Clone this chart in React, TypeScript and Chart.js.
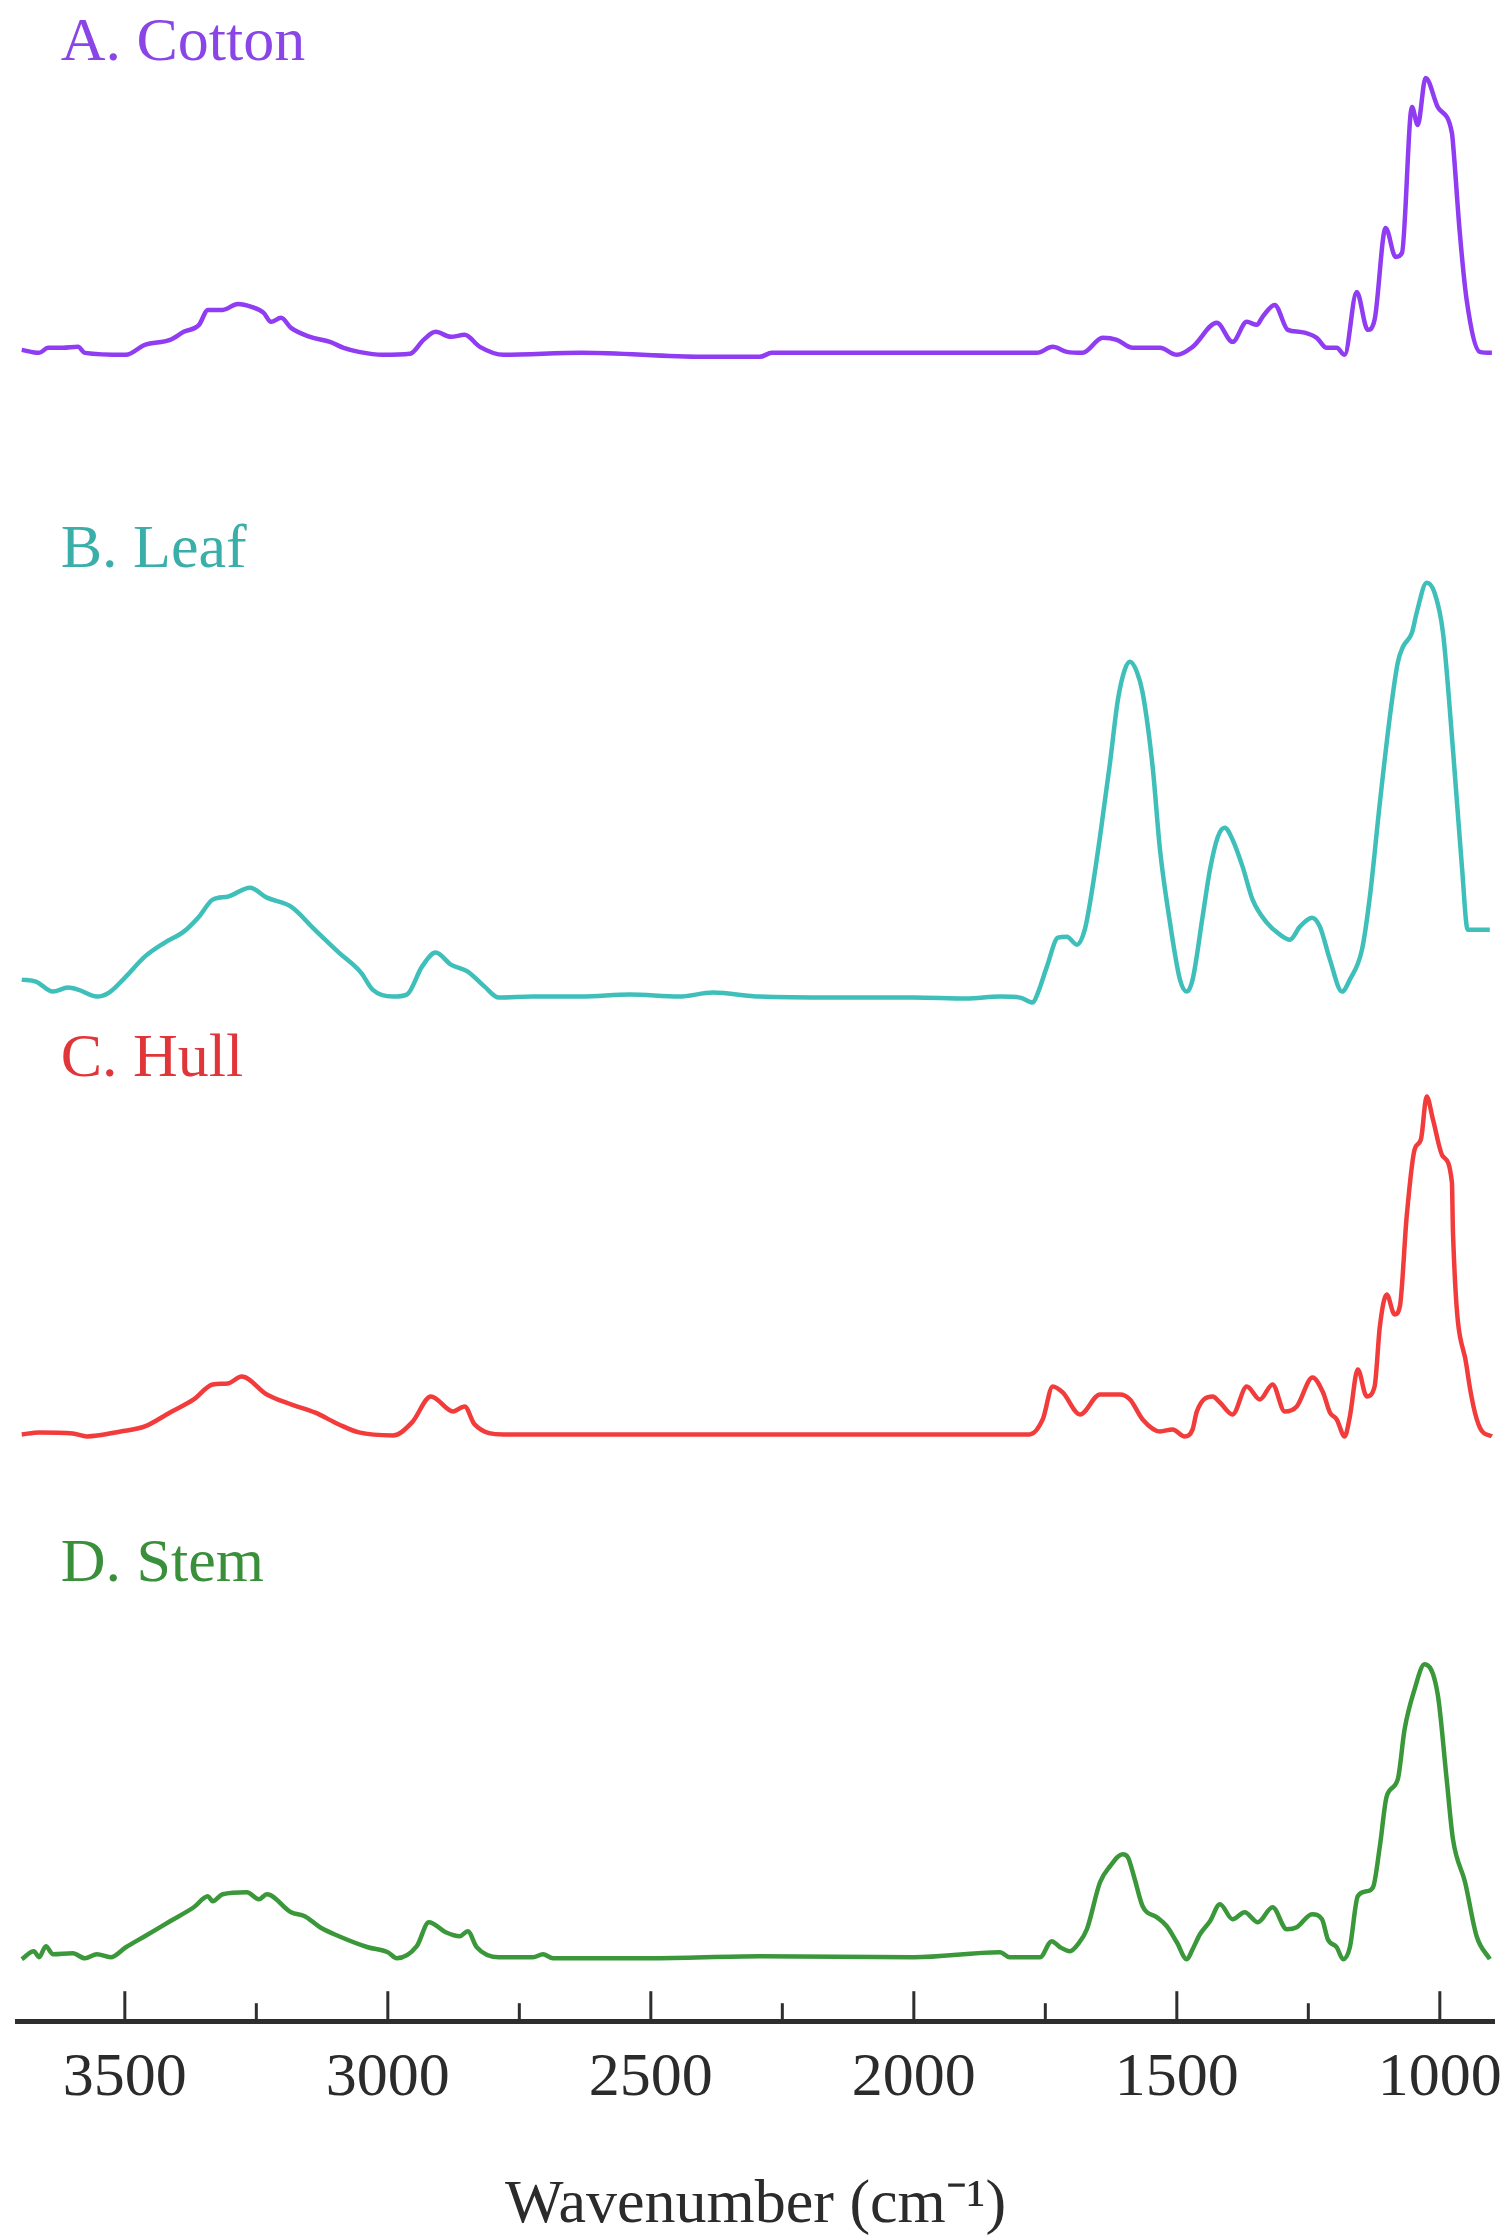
import React, { useEffect, useRef } from 'react';
import { Chart, registerables } from 'chart.js';

Chart.register(...registerables);

// ---------- Data (wavenumber in cm^-1, relative absorbance) ----------
const COTTON_WN = [3696, 3663, 3646, 3618, 3589, 3576, 3498, 3462, 3414, 3388, 3359, 3342, 3314, 3285, 3259, 3236, 3222, 3203, 3184, 3148, 3110, 3084, 3055, 3010, 2958, 2932, 2909, 2880, 2854, 2825, 2780, 2631, 2401, 2293, 2270, 2100, 1900, 1766, 1736, 1709, 1679, 1641, 1614, 1584, 1532, 1500, 1470, 1424, 1394, 1367, 1348, 1337, 1314, 1289, 1266, 1234, 1215, 1196, 1181, 1158, 1137, 1124, 1103, 1084, 1072, 1053, 1042, 1027, 1004, 977, 975, 962, 949, 924, 901];
const COTTON_ABS = [0.05, 0.02, 0.07, 0.07, 0.08, 0.02, 0.0, 0.1, 0.15, 0.23, 0.3, 0.45, 0.45, 0.51, 0.48, 0.42, 0.33, 0.37, 0.27, 0.18, 0.13, 0.07, 0.03, 0.0, 0.01, 0.15, 0.23, 0.18, 0.2, 0.08, 0.0, 0.02, -0.02, -0.02, 0.02, 0.02, 0.02, 0.02, 0.08, 0.03, 0.02, 0.17, 0.15, 0.07, 0.07, 0.0, 0.08, 0.32, 0.13, 0.33, 0.3, 0.38, 0.5, 0.25, 0.23, 0.17, 0.07, 0.07, 0.0, 0.63, 0.25, 0.35, 1.27, 0.98, 1.02, 2.48, 2.3, 2.77, 2.48, 2.22, 2.12, 1.22, 0.55, 0.03, 0.02];

const LEAF_WN = [3696, 3669, 3637, 3608, 3589, 3553, 3530, 3498, 3462, 3424, 3388, 3359, 3333, 3304, 3262, 3230, 3184, 3139, 3093, 3051, 3029, 2990, 2964, 2935, 2909, 2880, 2848, 2816, 2789, 2724, 2631, 2540, 2447, 2382, 2293, 2150, 2000, 1900, 1836, 1798, 1774, 1764, 1747, 1726, 1709, 1690, 1675, 1665, 1646, 1627, 1612, 1599, 1589, 1576, 1565, 1546, 1532, 1513, 1494, 1481, 1470, 1451, 1437, 1422, 1409, 1394, 1375, 1356, 1329, 1304, 1285, 1266, 1243, 1228, 1209, 1186, 1171, 1148, 1133, 1114, 1095, 1080, 1070, 1053, 1044, 1025, 1010, 994, 975, 958, 947, 905];
const LEAF_ABS = [0.17, 0.15, 0.05, 0.09, 0.07, 0.0, 0.04, 0.2, 0.4, 0.54, 0.65, 0.8, 0.97, 1.0, 1.09, 0.99, 0.9, 0.67, 0.44, 0.24, 0.07, 0.0, 0.02, 0.3, 0.44, 0.32, 0.25, 0.1, -0.01, 0.0, 0.0, 0.02, 0.0, 0.04, 0.0, -0.01, -0.01, -0.02, 0.0, -0.01, -0.06, 0.04, 0.3, 0.59, 0.6, 0.52, 0.67, 0.94, 1.6, 2.34, 2.97, 3.27, 3.35, 3.25, 3.04, 2.3, 1.47, 0.74, 0.17, 0.05, 0.17, 0.8, 1.27, 1.6, 1.69, 1.57, 1.3, 0.97, 0.74, 0.62, 0.57, 0.7, 0.79, 0.7, 0.37, 0.05, 0.17, 0.47, 1.0, 1.94, 2.8, 3.34, 3.5, 3.64, 3.84, 4.14, 4.04, 3.64, 2.47, 1.3, 0.67, 0.67];

const HULL_WN = [3696, 3663, 3599, 3572, 3508, 3462, 3414, 3369, 3333, 3304, 3278, 3230, 3184, 3139, 3093, 3055, 2990, 2954, 2918, 2876, 2854, 2835, 2780, 2631, 2293, 1836, 1780, 1755, 1736, 1717, 1684, 1646, 1608, 1589, 1565, 1532, 1508, 1485, 1470, 1462, 1432, 1418, 1394, 1367, 1342, 1318, 1295, 1272, 1242, 1222, 1209, 1196, 1181, 1171, 1156, 1139, 1124, 1114, 1101, 1086, 1076, 1063, 1048, 1036, 1025, 1013, 994, 977, 975, 949, 924, 901];
const HULL_ABS = [0.0, 0.02, 0.01, -0.02, 0.03, 0.08, 0.22, 0.35, 0.5, 0.51, 0.58, 0.4, 0.3, 0.22, 0.1, 0.02, -0.01, 0.12, 0.38, 0.23, 0.28, 0.1, 0.0, 0.0, 0.0, 0.0, 0.0, 0.15, 0.48, 0.42, 0.2, 0.4, 0.4, 0.35, 0.15, 0.03, 0.05, -0.02, 0.05, 0.23, 0.38, 0.32, 0.2, 0.48, 0.35, 0.5, 0.23, 0.28, 0.57, 0.42, 0.22, 0.15, -0.02, 0.18, 0.65, 0.38, 0.48, 1.08, 1.4, 1.2, 1.28, 2.18, 2.85, 2.95, 3.38, 3.15, 2.78, 2.52, 2.02, 0.68, 0.07, -0.02];

const STEM_WN = [3696, 3673, 3663, 3650, 3637, 3599, 3576, 3553, 3527, 3498, 3462, 3414, 3369, 3342, 3333, 3314, 3268, 3245, 3230, 3184, 3158, 3129, 3093, 3038, 3000, 2983, 2945, 2922, 2890, 2863, 2848, 2831, 2789, 2724, 2705, 2686, 2502, 2293, 2000, 1836, 1818, 1760, 1738, 1722, 1703, 1688, 1671, 1646, 1627, 1603, 1593, 1580, 1565, 1538, 1519, 1500, 1481, 1470, 1456, 1437, 1418, 1394, 1371, 1346, 1318, 1291, 1272, 1243, 1224, 1213, 1196, 1184, 1171, 1156, 1139, 1127, 1114, 1101, 1080, 1067, 1048, 1029, 1004, 987, 975, 952, 930, 905];
const STEM_ABS = [-0.02, 0.06, 0.0, 0.11, 0.03, 0.04, -0.01, 0.03, 0.0, 0.1, 0.21, 0.36, 0.5, 0.61, 0.56, 0.63, 0.65, 0.58, 0.63, 0.45, 0.41, 0.3, 0.21, 0.1, 0.05, -0.01, 0.11, 0.35, 0.25, 0.21, 0.26, 0.1, 0.0, 0.0, 0.03, -0.01, -0.01, 0.01, 0.0, 0.05, 0.0, 0.0, 0.16, 0.1, 0.06, 0.13, 0.28, 0.75, 0.91, 1.03, 1.0, 0.78, 0.51, 0.4, 0.31, 0.15, -0.02, 0.08, 0.23, 0.36, 0.53, 0.38, 0.45, 0.35, 0.5, 0.28, 0.3, 0.43, 0.38, 0.18, 0.1, -0.02, 0.1, 0.61, 0.66, 0.7, 1.11, 1.61, 1.78, 2.28, 2.68, 2.93, 2.63, 1.78, 1.18, 0.75, 0.21, -0.02];

const SERIES_NAMES = ['A. Cotton', 'B. Leaf', 'C. Hull', 'D. Stem'];
const SERIES_OFFSETS = [16.67, 10.25, 5.87, 0.64];
const X_TICKS = [3500, 3000, 2500, 2000, 1500, 1000];
const X_MINOR_TICKS = [3250, 2750, 2250, 1750, 1250];
const X_TITLE = 'Wavenumber (cm\u207B\u00B9)';

// ---------- Styles ----------
const LINE_COLORS = ['#8f3cf2', '#3fbfba', '#f23c3c', '#3a983a'];
const LABEL_COLORS = ['#8a45e6', '#3aaea8', '#e0363a', '#3a8f3a'];
const LABEL_POS_X = 3622;
const LABEL_POS_Y = [19.62, 14.55, 9.46, 4.4];
const FONT_FAMILY = '"Liberation Serif", "Times New Roman", serif';
const AXIS_COLOR = '#2e2e2e';

const inwardTicks = {
  id: 'inwardTicks',
  afterDraw(chart: any) {
    const xs = chart.scales.x;
    const { ctx, chartArea } = chart;
    ctx.save();
    ctx.strokeStyle = AXIS_COLOR;
    ctx.lineWidth = 3;
    const draw = (v: number, len: number) => {
      const p = xs.getPixelForValue(v);
      ctx.beginPath();
      ctx.moveTo(p, chartArea.bottom);
      ctx.lineTo(p, chartArea.bottom - len);
      ctx.stroke();
    };
    X_TICKS.forEach((v) => draw(v, 30));
    X_MINOR_TICKS.forEach((v) => draw(v, 18));
    ctx.restore();
  },
};

const seriesLabels = {
  id: 'seriesLabels',
  afterDraw(chart: any) {
    const xs = chart.scales.x;
    const ys = chart.scales.y;
    const { ctx } = chart;
    ctx.save();
    ctx.font = `62px ${FONT_FAMILY}`;
    ctx.textAlign = 'left';
    ctx.textBaseline = 'alphabetic';
    SERIES_NAMES.forEach((name, i) => {
      ctx.fillStyle = LABEL_COLORS[i];
      ctx.fillText(name, xs.getPixelForValue(LABEL_POS_X), ys.getPixelForValue(LABEL_POS_Y[i]));
    });
    ctx.restore();
  },
};

const SERIES = [
  { wn: COTTON_WN, abs: COTTON_ABS },
  { wn: LEAF_WN, abs: LEAF_ABS },
  { wn: HULL_WN, abs: HULL_ABS },
  { wn: STEM_WN, abs: STEM_ABS },
];

export default function App() {
  const canvasRef = useRef<HTMLCanvasElement | null>(null);

  useEffect(() => {
    document.body.style.margin = '0';
    const canvas = canvasRef.current;
    if (!canvas) return;
    const chart = new Chart(canvas, {
      type: 'line',
      data: {
        datasets: SERIES.map((s, i) => ({
          label: SERIES_NAMES[i],
          data: s.wn.map((w, j) => ({ x: w, y: s.abs[j] + SERIES_OFFSETS[i] })),
          borderColor: LINE_COLORS[i],
          backgroundColor: LINE_COLORS[i],
          borderWidth: 4.5,
          pointRadius: 0,
          cubicInterpolationMode: 'monotone' as const,
          fill: false,
        })),
      },
      options: {
        animation: false,
        responsive: false,
        layout: { padding: { left: 17, right: 17, top: 0, bottom: 0 } },
        plugins: { legend: { display: false }, tooltip: { enabled: false } },
        scales: {
          x: {
            type: 'linear',
            reverse: true,
            min: 897,
            max: 3705,
            afterBuildTicks: (scale: any) => {
              scale.ticks = X_TICKS.map((v) => ({ value: v }));
            },
            grid: { display: false, drawTicks: true, tickLength: 20 },
            border: { display: true, color: AXIS_COLOR, width: 5 },
            ticks: {
              padding: 0,
              color: '#2b2b2b',
              font: { family: FONT_FAMILY, size: 62 },
              maxRotation: 0,
              autoSkip: false,
              callback: (v: any) => String(v),
            },
            title: {
              display: true,
              text: X_TITLE,
              color: '#2b2b2b',
              font: { family: FONT_FAMILY, size: 62 },
              padding: { top: 53, bottom: -7 },
            },
          },
          y: {
            type: 'linear',
            display: false,
            min: 0,
            max: 20.22,
          },
        },
      },
      plugins: [inwardTicks, seriesLabels],
    });
    return () => chart.destroy();
  }, []);

  return (
    <div style={{ width: 1511, height: 2236, background: '#fff' }}>
      <canvas ref={canvasRef} width={1511} height={2236} style={{ display: 'block' }} />
    </div>
  );
}
